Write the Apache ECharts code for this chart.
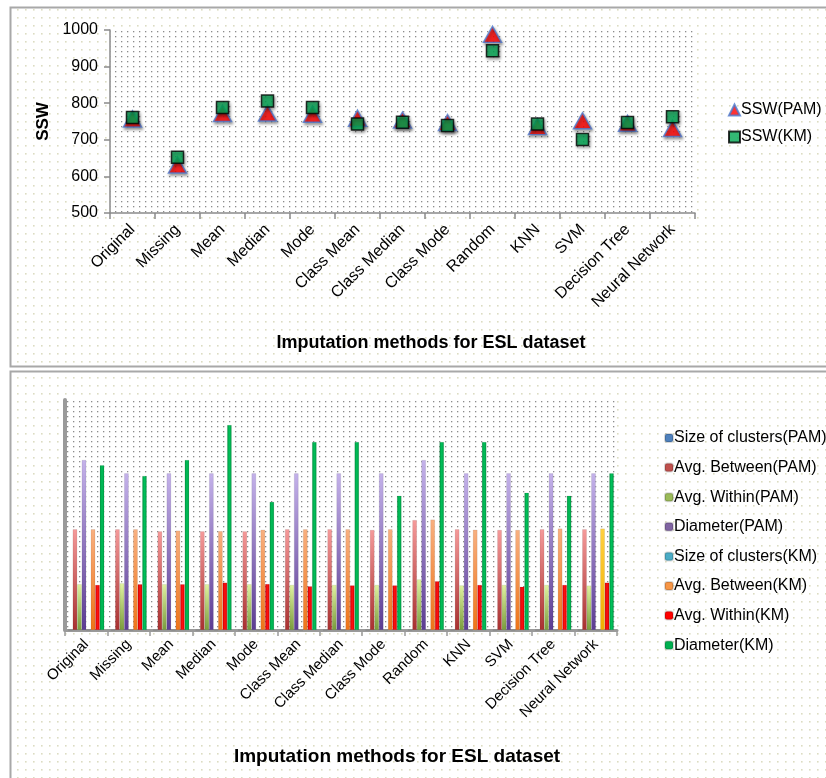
<!DOCTYPE html>
<html>
<head>
<meta charset="utf-8">
<script src="https://cdn.jsdelivr.net/npm/echarts@6/dist/echarts.min.js"></script>
<style>
html,body{margin:0;padding:0;background:#fff;}
#c{width:826px;height:778px;}
</style>
</head>
<body>
<div id="c"></div>
<script>
// ---------- data ----------
const categories = ['Original','Missing','Mean','Median','Mode','Class Mean','Class Median','Class Mode','Random','KNN','SVM','Decision Tree','Neural Network'];
const sswTicks = [500, 600, 700, 800, 900, 1000];
const sswPAM = [757, 631, 772, 773, 770, 759, 754, 747, 988, 736, 752, 745, 731];
const sswKM  = [761, 652, 788, 806, 788, 743, 748, 739, 943, 743, 701, 747, 763];

const sizePAM       = [0,0,0,0,0,0,0,0,0,0,0,0,0];
const avgBetweenPAM = [4.38,4.38,4.29,4.29,4.29,4.38,4.38,4.35,4.78,4.38,4.35,4.38,4.38];
const avgWithinPAM  = [1.99,2.03,1.99,1.99,1.99,1.96,1.96,1.96,2.20,1.94,1.96,1.96,1.93];
const diameterPAM   = [7.39,6.81,6.81,6.81,6.81,6.81,6.81,6.81,7.39,6.81,6.81,6.81,6.81];
const sizeKM        = [0,0,0,0,0,0,0,0,0,0,0,0,0];
const avgBetweenKM  = [4.38,4.38,4.32,4.30,4.36,4.38,4.38,4.38,4.80,4.36,4.35,4.41,4.41];
const avgWithinKM   = [1.96,1.99,1.99,2.06,2.00,1.90,1.94,1.94,2.12,1.96,1.88,1.96,2.06];
const diameterKM    = [7.16,6.70,7.39,8.91,5.57,8.17,8.17,5.84,8.17,8.17,5.97,5.84,6.81];

// ---------- patterns ----------
function dotPattern(w, h, color, r, bg) {
  const cv = document.createElement('canvas');
  cv.width = w; cv.height = h;
  const ctx = cv.getContext('2d');
  if (bg) { ctx.fillStyle = bg; ctx.fillRect(0, 0, w, h); }
  ctx.fillStyle = color;
  ctx.fillRect(1, 1, r, r);
  return { image: cv, repeat: 'repeat' };
}
const outerPat = dotPattern(8, 8, '#dcdcc2', 1.6, '#ffffff');
const innerPat = dotPattern(6, 5, '#8c8c8c', 1.3, '#ffffff');

const FONT = 'Liberation Sans, Arial, sans-serif';

function vgrad(top, bottom) {
  return new echarts.graphic.LinearGradient(0, 0, 0, 1, [
    { offset: 0, color: top }, { offset: 1, color: bottom }
  ]);
}
function hgrad(a, b, c) {
  return new echarts.graphic.LinearGradient(0, 0, 1, 0, [
    { offset: 0, color: a }, { offset: 0.5, color: b }, { offset: 1, color: c }
  ]);
}

const chart = echarts.init(document.getElementById('c'), null, { renderer: 'canvas' });

const barNames = ['Size of clusters(PAM)','Avg. Between(PAM)','Avg. Within(PAM)','Diameter(PAM)',
                  'Size of clusters(KM)','Avg. Between(KM)','Avg. Within(KM)','Diameter(KM)'];
const barData = [sizePAM, avgBetweenPAM, avgWithinPAM, diameterPAM, sizeKM, avgBetweenKM, avgWithinKM, diameterKM];
const barLegendColors = ['#4f81bd','#c0504d','#9bbb59','#8064a2','#4bacc6','#f79646','#ff0000','#00b050'];
const barFills = [
  vgrad('#8fb0e0', '#3a68a8'),
  vgrad('#f59a9a', '#a83030'),
  vgrad('#e0f2a0', '#7a9c3c'),
  vgrad('#c4b2ea', '#5c3c92'),
  vgrad('#a0dcec', '#3a9ab4'),
  vgrad('#f8b080', '#ee7418'),
  hgrad('#d00000', '#ff1010', '#d80000'),
  hgrad('#00963f', '#00c05a', '#009a42')
];

const barSeries = barNames.map((name, i) => ({
  name: name,
  type: 'bar',
  xAxisIndex: 1,
  yAxisIndex: 1,
  barGap: '0%',
  barCategoryGap: '15%',
  itemStyle: { color: barFills[i], borderColor: 'rgba(0,0,0,0.15)', borderWidth: 0.5 },
  data: barData[i].map((v, j) => {
    if (i === 5 && j === categories.length - 1) {
      return { value: v, itemStyle: { color: vgrad('#ffd040', '#f0b000') } };
    }
    return v;
  })
}));

const option = {
  backgroundColor: '#ffffff',
  animation: false,
  textStyle: { fontFamily: FONT },
  graphic: [
    { type: 'rect', z: -10, shape: { x: 10.5, y: 7.5, width: 830, height: 359 },
      style: { fill: outerPat, stroke: '#a8a8a8', lineWidth: 2 } },
    { type: 'rect', z: -10, shape: { x: 10.5, y: 371.5, width: 830, height: 430 },
      style: { fill: outerPat, stroke: '#a8a8a8', lineWidth: 2 } },
    { type: 'text', z: 10, x: 431, y: 343,
      style: { text: 'Imputation methods for ESL dataset', fill: '#000', font: 'bold 18px ' + FONT,
               textAlign: 'center', textVerticalAlign: 'middle' } },
    { type: 'text', z: 10, x: 397, y: 757,
      style: { text: 'Imputation methods for ESL dataset', fill: '#000', font: 'bold 19px ' + FONT,
               textAlign: 'center', textVerticalAlign: 'middle' } }
  ],
  legend: [
    {
      data: ['SSW(PAM)', 'SSW(KM)'],
      orient: 'vertical', left: 723, top: 97,
      itemWidth: 11, itemHeight: 11, itemGap: 11,
      textStyle: { fontSize: 16, color: '#000', fontFamily: FONT, padding: [0,0,0,-4] }
    },
    {
      data: barNames.map((n, i) => ({ name: n, itemStyle: { color: barLegendColors[i] } })),
      orient: 'vertical', left: 659, top: 424,
      itemWidth: 8, itemHeight: 8, itemGap: 11.6,
      textStyle: { fontSize: 16, color: '#000', fontFamily: FONT, lineHeight: 18, padding: [0,0,0,-4] }
    }
  ],
  grid: [
    { left: 110, top: 30, width: 585, height: 183, show: true, backgroundColor: innerPat, borderWidth: 0 },
    { left: 65, top: 400, width: 552, height: 230, show: true, backgroundColor: innerPat, borderWidth: 0 }
  ],
  xAxis: [
    {
      type: 'category', gridIndex: 0, data: categories, boundaryGap: true,
      axisLine: { lineStyle: { color: '#8a8a8a', width: 1.5 } },
      axisTick: { show: true, length: 6, lineStyle: { color: '#8a8a8a', width: 1.5 } },
      axisLabel: { rotate: 45, fontSize: 16, color: '#000', margin: 14, interval: 0, fontFamily: FONT },
      splitLine: { show: false }
    },
    {
      type: 'category', gridIndex: 1, data: categories, boundaryGap: true,
      axisLine: { lineStyle: { color: '#9a9a9a', width: 3 } },
      axisTick: { show: true, length: 6, lineStyle: { color: '#9a9a9a', width: 1.5 } },
      axisLabel: { rotate: 45, fontSize: 15, color: '#000', margin: 12, interval: 0, fontFamily: FONT },
      splitLine: { show: false }
    }
  ],
  yAxis: [
    {
      type: 'value', gridIndex: 0, min: sswTicks[0], max: sswTicks[sswTicks.length - 1], interval: 100,
      name: 'SSW', nameLocation: 'middle', nameRotate: 90, nameGap: 58,
      nameTextStyle: { fontSize: 17, fontWeight: 'bold', color: '#000', fontFamily: FONT },
      axisLine: { show: true, lineStyle: { color: '#8a8a8a', width: 1.5 } },
      axisTick: { show: true, length: 6, lineStyle: { color: '#8a8a8a', width: 1.5 } },
      axisLabel: { fontSize: 16, color: '#000', margin: 12, fontFamily: FONT, formatter: v => String(v) },
      splitLine: { show: false }
    },
    {
      type: 'value', gridIndex: 1, min: 0, max: 10,
      axisLine: { show: true, lineStyle: { color: '#9a9a9a', width: 4 } },
      axisTick: { show: false }, axisLabel: { show: false },
      splitLine: { show: false }
    }
  ],
  series: [
    {
      name: 'SSW(PAM)', type: 'scatter', xAxisIndex: 0, yAxisIndex: 0,
      symbol: 'triangle', symbolSize: [18, 16],
      itemStyle: { color: '#ff0000', borderColor: '#4a7ad0', borderWidth: 1.5,
                   shadowBlur: 3, shadowColor: 'rgba(0,0,0,0.45)', shadowOffsetX: 1, shadowOffsetY: 2 },
      data: sswPAM
    },
    {
      name: 'SSW(KM)', type: 'scatter', xAxisIndex: 0, yAxisIndex: 0,
      symbol: 'rect', symbolSize: 12,
      itemStyle: { color: '#00a651', borderColor: '#000', borderWidth: 1.5,
                   shadowBlur: 3, shadowColor: 'rgba(0,0,0,0.45)', shadowOffsetX: 1, shadowOffsetY: 2 },
      data: sswKM
    }
  ].concat(barSeries)
};

chart.setOption(option);
</script>
</body>
</html>
